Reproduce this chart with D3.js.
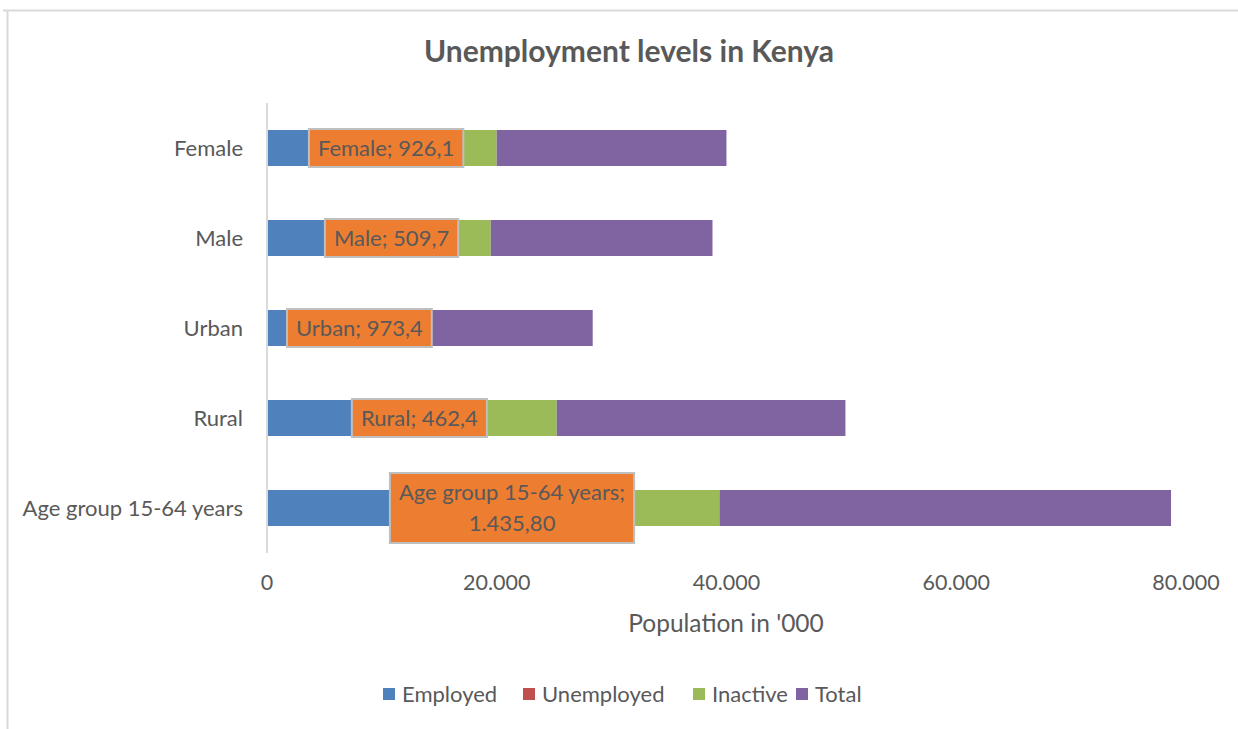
<!DOCTYPE html>
<html>
<head>
<meta charset="utf-8">
<script src="https://cdn.jsdelivr.net/npm/d3@7"></script>
<style>
  html, body { margin: 0; padding: 0; background: #fff; }
  svg { display: block; font-family: Lato, "Open Sans", sans-serif; }
</style>
</head>
<body>
<svg id="chart" width="1238" height="729"></svg>
<script>
const categories = ["Female", "Male", "Urban", "Rural", "Age group 15-64 years"];
const seriesNames = ["Employed", "Unemployed", "Inactive", "Total"];
const employed = [3650, 5040, 1740, 7390, 10700];
const unemployed = [926.1, 509.7, 973.4, 462.4, 1435.8];
const inactive = [15420, 13930, 11460, 17370, 27250];
const total = [20000, 19300, 14180, 25130, 39310];
const unemployedLabels = ["926,1", "509,7", "973,4", "462,4", "1.435,80"];
const xTicks = [0, 20000, 40000, 60000, 80000];
const colors = ["#4F81BD", "#C0504D", "#9BBB59", "#8064A2"];

const svg = d3.select("#chart");
const textColor = "#595959";

// chart area border
svg.append("line").attr("x1", 3).attr("x2", 1238).attr("y1", 10.5).attr("y2", 10.5)
  .attr("stroke", "#d9d9d9").attr("stroke-width", 2);
svg.append("line").attr("x1", 7.5).attr("x2", 7.5).attr("y1", 10).attr("y2", 729)
  .attr("stroke", "#d9d9d9").attr("stroke-width", 2);

const x = d3.scaleLinear().domain([0, 80000]).range([267, 1186]);
const y = d3.scaleBand().domain(categories).range([103, 553]).paddingInner(0.6).paddingOuter(0.3);

const rows = categories.map((c, i) => ({
  category: c, Employed: employed[i], Unemployed: unemployed[i], Inactive: inactive[i], Total: total[i]
}));
const stacked = d3.stack().keys(seriesNames)(rows);

// title
svg.append("text").attr("x", 629).attr("y", 62).attr("text-anchor", "middle")
  .attr("font-size", 30).attr("font-weight", "bold").attr("fill", textColor)
  .text("Unemployment levels in Kenya");

// bars
stacked.forEach((layer, si) => {
  svg.append("g").selectAll("rect").data(layer).join("rect")
    .attr("x", d => x(d[0]))
    .attr("y", d => y(d.data.category))
    .attr("width", d => Math.max(0, x(d[1]) - x(d[0])))
    .attr("height", y.bandwidth())
    .attr("fill", colors[si]);
});

// y axis line
svg.append("line").attr("x1", 267).attr("x2", 267).attr("y1", 103).attr("y2", 553)
  .attr("stroke", "#d9d9d9").attr("stroke-width", 2);

// category labels
svg.append("g").selectAll("text").data(categories).join("text")
  .attr("x", 243).attr("y", d => y(d) + y.bandwidth() / 2)
  .attr("dy", "0.35em").attr("text-anchor", "end")
  .attr("font-size", 22).attr("fill", textColor).text(d => d);

// x axis tick labels
const locale = d3.formatLocale({ decimal: ",", thousands: ".", grouping: [3], currency: ["", ""] });
const fmt = locale.format(",.0f");
svg.append("g").selectAll("text").data(xTicks).join("text")
  .attr("x", d => x(d)).attr("y", 590).attr("text-anchor", "middle")
  .attr("font-size", 21.5).attr("fill", textColor).text(d => fmt(d));

// x axis title
svg.append("text").attr("x", 726).attr("y", 632).attr("text-anchor", "middle")
  .attr("font-size", 24.5).attr("fill", textColor).text("Population in '000");

// data labels (inside base of Unemployed segment)
const unLayer = stacked[1];
unLayer.forEach((d, i) => {
  const g = svg.append("g");
  const left = x(d[0]);
  const cy = y(d.data.category) + y.bandwidth() / 2;
  const full = d.data.category + "; " + unemployedLabels[i];
  const lines = i === 4 ? [d.data.category + ";", unemployedLabels[i]] : [full];
  const lh = 31;
  const texts = lines.map(() => g.append("text"));
  let maxW = 0;
  texts.forEach((t, k) => {
    t.attr("font-size", 22).attr("fill", textColor).attr("text-anchor", "middle").text(lines[k]);
    maxW = Math.max(maxW, t.node().getComputedTextLength());
  });
  const padX = 9;
  const w = maxW + padX * 2;
  const h = lines.length === 1 ? 38 : 70;
  g.insert("rect", "text").attr("x", left).attr("y", cy - h / 2).attr("width", w).attr("height", h)
    .attr("fill", "#ED7D31").attr("stroke", "#bfbfbf").attr("stroke-width", 2);
  texts.forEach((t, k) => {
    t.attr("x", left + w / 2).attr("y", cy + (k - (lines.length - 1) / 2) * lh).attr("dy", "0.35em");
  });
});

// legend
const legendItems = [
  { name: "Employed", sx: 383 },
  { name: "Unemployed", sx: 523 },
  { name: "Inactive", sx: 693 },
  { name: "Total", sx: 796 }
];
const lg = svg.append("g");
legendItems.forEach((it, i) => {
  lg.append("rect").attr("x", it.sx).attr("y", 688).attr("width", 12).attr("height", 12).attr("fill", colors[i]);
  lg.append("text").attr("x", it.sx + 19).attr("y", 694).attr("dy", "0.35em")
    .attr("font-size", 22).attr("fill", textColor).text(seriesNames[i]);
});
</script>
</body>
</html>
